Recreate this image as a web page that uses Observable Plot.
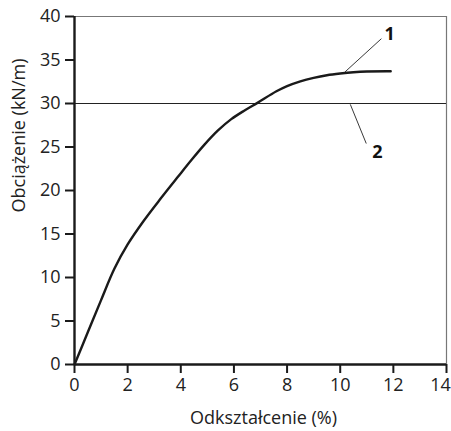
<!DOCTYPE html>
<html>
<head>
<meta charset="utf-8">
<script src="https://cdn.jsdelivr.net/npm/d3@7"></script>
<script src="https://cdn.jsdelivr.net/npm/@observablehq/plot@0.6"></script>
<style>
  html, body { margin: 0; padding: 0; background: #fff; }
</style>
</head>
<body>
<div id="chart"></div>
<script>
// Curve 1: load vs strain
const strain = [0, 0.5, 1.0, 1.5, 2.0, 2.6, 3.25, 3.9, 4.4, 4.9, 5.4, 5.9, 6.4, 6.9, 7.6, 8.0, 8.5, 9.0, 9.5, 10.0, 10.5, 11.0, 11.9];
const load   = [0, 3.7, 7.4, 11.0, 13.8, 16.5, 19.1, 21.6, 23.5, 25.3, 26.9, 28.2, 29.2, 30.1, 31.4, 32.0, 32.55, 32.95, 33.25, 33.45, 33.6, 33.68, 33.7];
// Line 2: reference level
const limitLevel = [30];
// Annotations
const labelNames = ["1", "2"];
const labelX = [11.86, 11.4];
const labelY = [38.0, 24.4];
const leaderFromX = [10.17, 10.38];
const leaderFromY = [33.6, 29.9];
const leaderToX = [11.55, 10.98];
const leaderToY = [37.45, 25.4];
const xTicks = [0, 2, 4, 6, 8, 10, 12, 14];
const xTickLabelsInner = [0, 2, 4, 6, 8, 10, 12];
const xTickLabelLast = [14];
const yTicks = [0, 5, 10, 15, 20, 25, 30, 35, 40];
const xTitle = "Odkształcenie (%)";
const yTitle = "Obciążenie (kN/m)";

const curve = strain.map((x, i) => ({x, y: load[i]}));
const labels = labelNames.map((t, i) => ({t, x: labelX[i], y: labelY[i], x1: leaderFromX[i], y1: leaderFromY[i], x2: leaderToX[i], y2: leaderToY[i]}));

const FS = 18;
const chart = Plot.plot({
  width: 451,
  height: 431,
  marginLeft: 74,
  marginRight: 5,
  marginTop: 16,
  marginBottom: 67,
  style: {fontFamily: "'Open Sans', sans-serif", fontSize: FS + "px", color: "#222", background: "#fff"},
  x: {domain: [0, 14]},
  y: {domain: [0, 40]},
  marks: [
    Plot.ruleY([40], {stroke: "#777", strokeWidth: 1.2}),
    Plot.ruleX([14], {stroke: "#777", strokeWidth: 1.2}),
    Plot.ruleY(limitLevel, {stroke: "#222", strokeWidth: 1.1}),
    Plot.line(curve, {x: "x", y: "y", stroke: "#1a1a1a", strokeWidth: 2.4, curve: "catmull-rom"}),
    Plot.link(labels, {x1: "x1", y1: "y1", x2: "x2", y2: "y2", stroke: "#222", strokeWidth: 0.9}),
    Plot.text(labels, {x: "x", y: "y", text: "t", fontWeight: "bold", fontSize: FS, fill: "#111"}),
    Plot.axisX({ticks: xTicks, tickSize: 9, strokeWidth: 2, stroke: "#1a1a1a", text: null, label: null}),
    Plot.axisX(xTickLabelsInner, {tickSize: 0, tickPadding: 14, fill: "#222", label: null, fontSize: FS}),
    Plot.axisX(xTickLabelLast, {tickSize: 0, tickPadding: 14, dx: -6, fill: "#222", label: null, fontSize: FS}),
    Plot.axisY({ticks: yTicks, tickSize: 9, tickPadding: 5, strokeWidth: 2, stroke: "#1a1a1a", fill: "#222", label: null, fontSize: FS}),
    Plot.ruleY([0], {stroke: "#1a1a1a", strokeWidth: 2.4}),
    Plot.ruleX([0], {stroke: "#1a1a1a", strokeWidth: 2.4}),
    Plot.text([xTitle], {frameAnchor: "bottom", dy: 54, dx: 3, lineAnchor: "middle", fontSize: FS, fill: "#222"}),
    Plot.text([yTitle], {frameAnchor: "left", rotate: -90, dx: -55, dy: 22, lineAnchor: "middle", fontSize: FS, fill: "#222"})
  ]
});
document.getElementById("chart").appendChild(chart);
</script>
</body>
</html>
